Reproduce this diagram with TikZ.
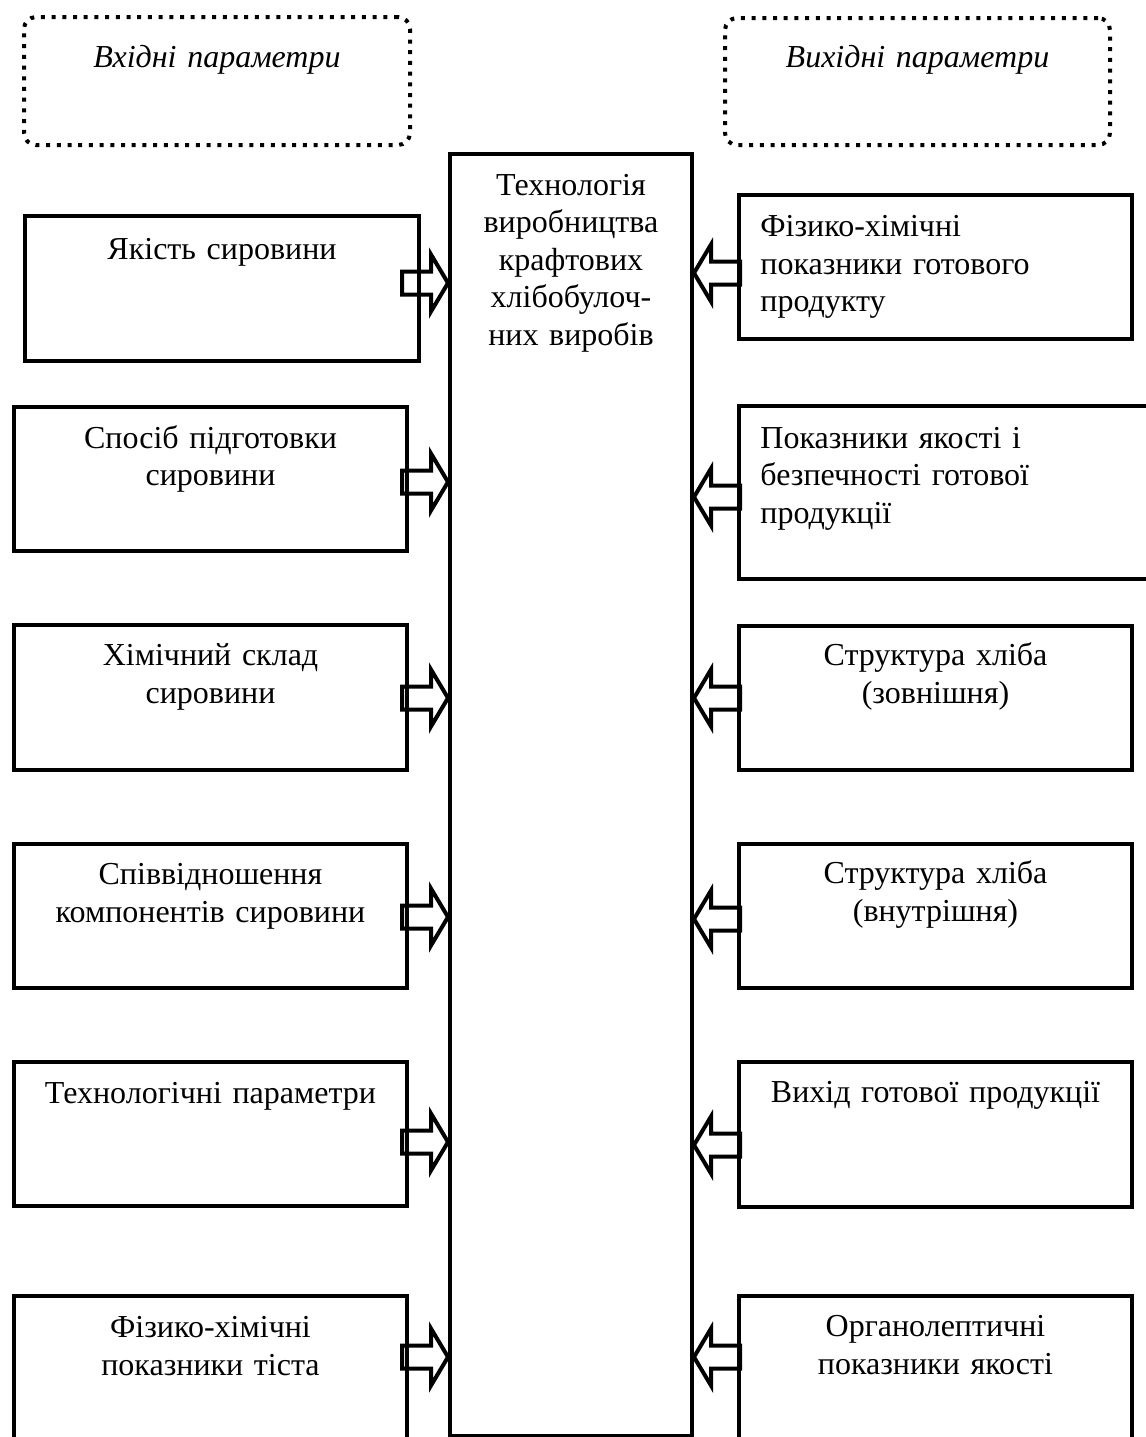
\documentclass[tikz,border=0pt]{standalone}
\usepackage{fontspec}
\setmainfont{Liberation Serif}
\usetikzlibrary{calc,fit}

\newcommand{\boxfont}{\fontsize{16pt}{18.8pt}\selectfont}

\begin{document}
\begin{tikzpicture}[x=0.5pt,y=-0.5pt,
  frame/.style={draw,line width=2pt,inner sep=0pt},
  dotframe/.style={draw,line width=2pt,inner sep=0pt,rounded corners=6pt,dash pattern=on 2pt off 3.35pt},
  txt/.style={font=\boxfont,align=center,text width=180pt,inner sep=0pt,anchor=base},
  ltxt/.style={txt,align=left,anchor=base west},
  pics/inarr/.style={code={
    \draw[line width=2pt,line join=miter] (0,0) -- (-17,-28.5) -- (-17,-11.5) -- (-46,-11.5)
      -- (-46,11.5) -- (-17,11.5) -- (-17,28.5) -- cycle;}}]
\clip (0,0) rectangle (1146,1437);
% headers
\node[dotframe,fit={(24,17) (410,145)}] (inp) {};
\node[dotframe,fit={(725,18) (1110,145)}] (outp) {};
\node[txt,font=\boxfont\itshape] (inpt) at ($(inp.north)+(0,52)$) {Вхідні параметри};
\node[txt,font=\boxfont\itshape] (outpt) at ($(outp.north)+(0,51)$) {Вихідні параметри};
% central block
\node[frame,fit={(450,154) (692,1436)}] (c) {};
\node[txt,text width=115pt] (ct) at ($(c.north)+(0,43)$) {Технологія\\ виробництва\\ крафтових\\ хлібобулоч-\\ них виробів};
% input boxes
\node[frame,fit={(25,215.5) (419,360.5)}] (l1) {};
\node[frame,fit={(14,407) (407,551)}] (l2) {};
\node[frame,fit={(14,624.5) (407,770)}] (l3) {};
\node[frame,fit={(14,843.7) (407,988)}] (l4) {};
\node[frame,fit={(14,1062) (407,1206)}] (l5) {};
\node[frame,fit={(14,1295.5) (407,1460)}] (l6) {};
\node[txt] (l1t) at ($(l1.north)+(0,46)$) {Якість сировини};
\node[txt] (l2t) at ($(l2.north)+(0,43)$) {Спосіб підготовки\\ сировини};
\node[txt] (l3t) at ($(l3.north)+(0,43)$) {Хімічний склад\\ сировини};
\node[txt] (l4t) at ($(l4.north)+(0,43)$) {Співвідношення\\ компонентів сировини};
\node[txt] (l5t) at ($(l5.north)+(0,43)$) {Технологічні параметри};
\node[txt] (l6t) at ($(l6.north)+(0,44)$) {Фізико-хімічні\\ показники тіста};
% output boxes
\node[frame,fit={(739,194.5) (1132,339)}] (r1) {};
\node[frame,fit={(739,406) (1160,579)}] (r2) {};
\node[frame,fit={(739,625.5) (1132,769.5)}] (r3) {};
\node[frame,fit={(739,843.7) (1132,987.5)}] (r4) {};
\node[frame,fit={(739,1062) (1132,1207)}] (r5) {};
\node[frame,fit={(739,1295.5) (1132,1460)}] (r6) {};
\node[ltxt] (r1t) at ($(r1.north west)+(23,44)$) {Фізико-хімічні\\ показники готового\\ продукту};
\node[ltxt] (r2t) at ($(r2.north west)+(23,44)$) {Показники якості і\\ безпечності готової\\ продукції};
\node[txt] (r3t) at ($(r3.north)+(0,42)$) {Структура хліба\\ (зовнішня)};
\node[txt] (r4t) at ($(r4.north)+(0,42)$) {Структура хліба\\ (внутрішня)};
\node[txt] (r5t) at ($(r5.north)+(0,42)$) {Вихід готової продукції};
\node[txt] (r6t) at ($(r6.north)+(0,43)$) {Органолептичні\\ показники якості};
% block arrows
\foreach \y in {283,482,698,917,1142,1357}
  \pic at (c.west |- 0,\y) {inarr};
\foreach \y in {273,497,698,919,1145,1357}
  \pic[xscale=-1] at (c.east |- 0,\y) {inarr};
\end{tikzpicture}
\end{document}
